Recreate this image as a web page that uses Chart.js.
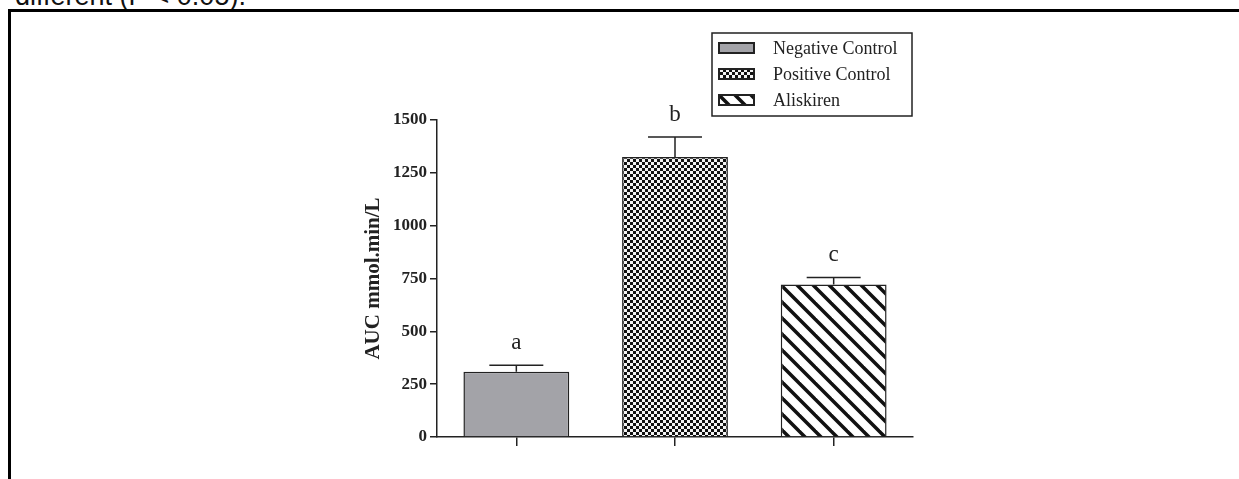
<!DOCTYPE html>
<html>
<head>
<meta charset="utf-8">
<script src="https://cdn.jsdelivr.net/npm/chart.js@4.4.1/dist/chart.umd.min.js"></script>
<style>
  html, body { margin: 0; padding: 0; background: #fff; overflow: hidden; }
  #wrap { position: relative; width: 1239px; height: 479px; overflow: hidden; }
  #caption { position: absolute; left: 15px; top: -17px; font: 27px "Liberation Sans", Arial, sans-serif; line-height: 27px; color: #111; white-space: nowrap; }
  #frame { position: absolute; left: 8px; top: 9px; width: 1300px; height: 600px; border-top: 3px solid #000; border-left: 3px solid #000; }
  canvas { position: absolute; left: 0; top: 0; }
</style>
</head>
<body>
<div id="wrap">
  <div id="caption">different (P &lt; 0.05).</div>
  <div id="frame"></div>
  <canvas id="myChart" width="1239" height="479"></canvas>
</div>
<script>
const categories = ['Negative Control', 'Positive Control', 'Aliskiren'];
const auc = [309, 1325, 722];
const aucError = [31, 95, 33];
const letters = ['a', 'b', 'c'];
const yTicks = [0, 250, 500, 750, 1000, 1250, 1500];

// fill patterns
function checkerPattern() {
  const c = document.createElement('canvas');
  c.width = 6; c.height = 6;
  const g = c.getContext('2d');
  g.fillStyle = '#f4f4f4'; g.fillRect(0, 0, 6, 6);
  g.fillStyle = '#111';
  g.fillRect(0, 0, 3, 3); g.fillRect(3, 3, 3, 3);
  return g.createPattern(c, 'repeat');
}

function hatchPattern() {
  const c = document.createElement('canvas');
  c.width = 16; c.height = 16;
  const g = c.getContext('2d');
  g.fillStyle = '#fff'; g.fillRect(0, 0, 16, 16);
  g.strokeStyle = '#111'; g.lineWidth = 3.5;
  [-16, 0, 16].forEach(o => {
    g.beginPath(); g.moveTo(o - 2, -2); g.lineTo(o + 18, 18); g.stroke();
  });
  return g.createPattern(c, 'repeat');
}

const fills = ['#a3a3a8', checkerPattern(), hatchPattern()];

const errorBars = {
  id: 'errorBars',
  afterDatasetsDraw(chart) {
    const { ctx, scales: { y } } = chart;
    const meta = chart.getDatasetMeta(0);
    ctx.save();
    ctx.strokeStyle = '#222';
    ctx.lineWidth = 1.5;
    ctx.fillStyle = '#222';
    ctx.font = '23px "Liberation Serif", serif';
    ctx.textAlign = 'center';
    ctx.textBaseline = 'alphabetic';
    meta.data.forEach((bar, i) => {
      const top = y.getPixelForValue(auc[i] + aucError[i]);
      const half = bar.width * 0.255;
      ctx.beginPath();
      ctx.moveTo(bar.x, bar.y); ctx.lineTo(bar.x, top);
      ctx.moveTo(bar.x - half, top); ctx.lineTo(bar.x + half, top);
      ctx.stroke();
      ctx.fillText(letters[i], bar.x, top - 16);
    });
    ctx.restore();
  }
};

// boxed legend, top right
const boxLegend = {
  id: 'boxLegend',
  afterDraw(chart) {
    const ctx = chart.ctx;
    ctx.save();
    ctx.strokeStyle = '#222';
    ctx.lineWidth = 1.5;
    ctx.strokeRect(712, 33, 200, 83);
    ctx.font = '18px "Liberation Serif", serif';
    ctx.textBaseline = 'middle';
    ctx.textAlign = 'left';
    categories.forEach((name, i) => {
      const cy = 48 + i * 26;
      ctx.fillStyle = fills[i];
      ctx.fillRect(719, cy - 5, 35, 10);
      ctx.lineWidth = 2;
      ctx.strokeRect(719, cy - 5, 35, 10);
      ctx.fillStyle = '#222';
      ctx.fillText(name, 773, cy + 1);
    });
    ctx.restore();
  }
};

const ctx = document.getElementById('myChart').getContext('2d');
const myChart = new Chart(ctx, {
  type: 'bar',
  data: {
    labels: categories,
    datasets: [{
      label: 'AUC',
      data: auc,
      backgroundColor: fills,
      borderColor: '#222',
      borderWidth: 1.5,
      barPercentage: 0.667,
      categoryPercentage: 1
    }]
  },
  options: {
    responsive: false,
    animation: false,
    layout: { padding: { left: 360, right: 326, top: 120, bottom: 0 } },
    plugins: {
      legend: { display: false },
      tooltip: { enabled: false }
    },
    scales: {
      x: {
        offset: true,
        grid: { offset: false, drawOnChartArea: false, drawTicks: true, tickLength: 9, lineWidth: 1.5, color: '#222' },
        border: { display: true, color: '#222', width: 1.5 },
        ticks: { display: false },
        afterFit: s => { s.height = 42; }
      },
      y: {
        min: 0,
        max: 1500,
        afterBuildTicks: s => { s.ticks = yTicks.map(v => ({ value: v })); },
        grid: { drawOnChartArea: false, drawTicks: true, tickLength: 7, lineWidth: 1.5, color: '#222' },
        border: { display: true, color: '#222', width: 1.5 },
        ticks: {
          color: '#222',
          padding: 3,
          callback: v => String(v),
          font: { family: '"Liberation Serif", serif', size: 17, weight: 'bold' }
        },
        title: {
          display: true,
          text: 'AUC mmol.min/L',
          color: '#222',
          font: { family: '"Liberation Serif", serif', size: 21, weight: 'bold' },
          padding: { top: 1, bottom: 4 }
        },
        afterFit: s => { s.width = 77; }
      }
    }
  },
  plugins: [errorBars, boxLegend]
});
</script>
</body>
</html>
